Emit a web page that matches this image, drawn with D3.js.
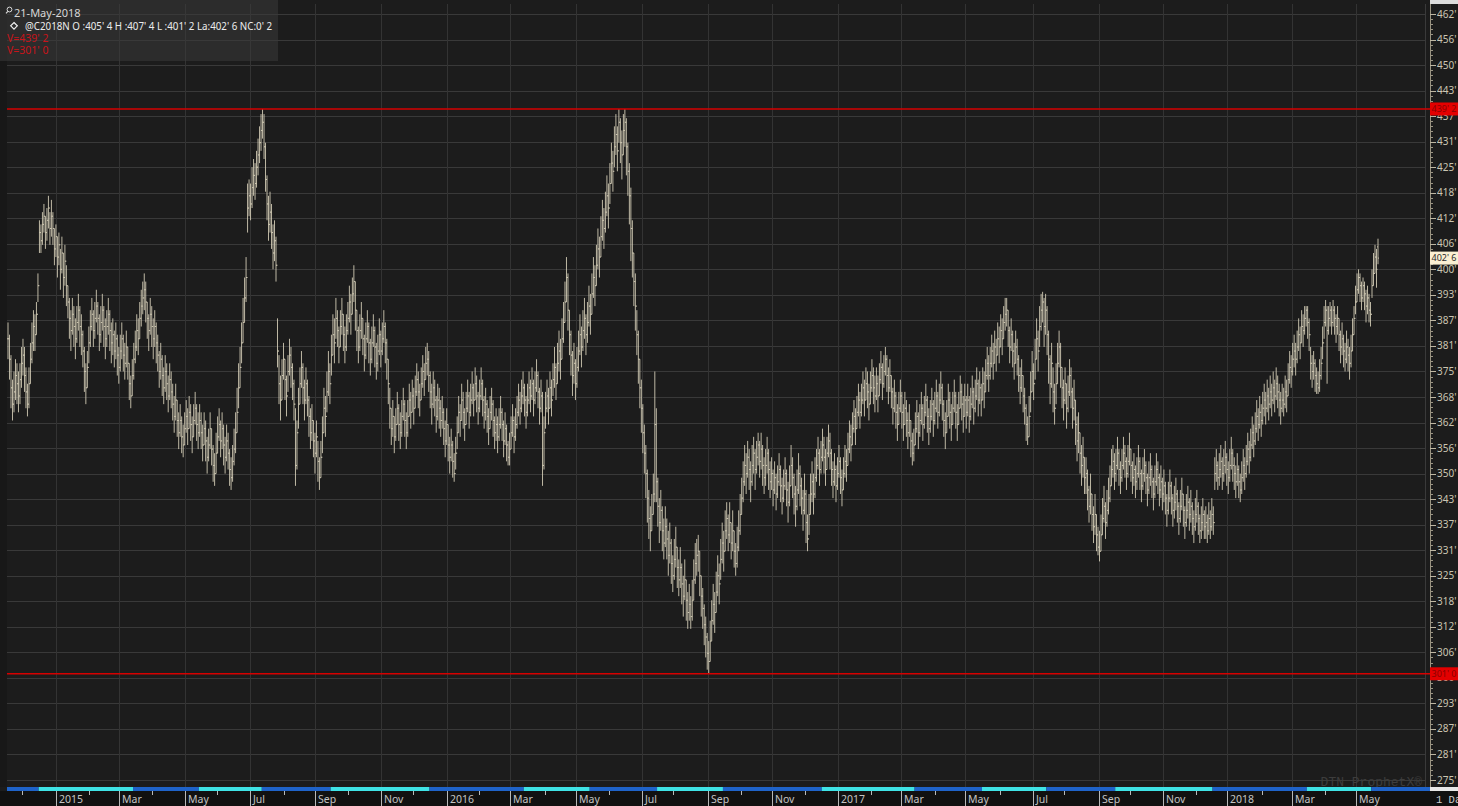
<!DOCTYPE html>
<html>
<head>
<meta charset="utf-8">
<script src="https://cdn.jsdelivr.net/npm/d3@7"></script>
<style>
  html, body { margin: 0; padding: 0; background: #1c1c1c; }
  svg { display: block; }
</style>
</head>
<body>
<svg id="chart" width="1458" height="806"></svg>
<script>
// Daily OHLC bars, corn continuation (@C2018N), one row = two trading weeks.
const firstDay = "2014-11-17";

const closes = [
383,378,371,367,370,374,372,369,373,377,
379,374,370,367,372,378,382,386,384,389,
396,409,407,411,413,409,412,415,410,413,
410,405,408,403,406,400,404,398,402,396,
392,388,385,389,386,383,387,390,386,384,
380,375,371,376,382,386,389,385,388,391,
388,384,387,390,386,383,386,389,385,382,
384,380,383,379,376,380,383,379,377,381,
377,372,369,374,378,381,385,383,388,391,
393,395,392,388,385,389,386,383,386,382,
379,375,378,374,371,375,372,369,373,370,
367,364,368,363,360,363,359,357,361,364,
361,365,362,359,363,366,362,360,363,360,
357,361,358,354,357,361,356,352,350,355,
359,362,358,361,357,354,358,355,351,349,
353,356,360,365,371,376,382,387,393,398,
415,418,416,420,423,421,425,428,431,434,
436,430,422,416,411,414,409,404,407,401,
380,372,368,374,378,373,369,375,379,376,
372,367,352,360,367,372,376,371,368,372,
368,364,360,363,358,355,359,353,349,354,
360,366,364,370,375,372,379,384,382,388,
385,381,386,389,384,381,385,388,392,389,
394,397,390,385,381,385,388,383,379,383,
386,382,378,382,385,381,377,380,384,380,
383,386,382,378,372,366,361,364,359,362,
366,362,360,364,367,363,360,364,368,365,
369,366,370,373,370,368,372,375,373,377,
378,374,370,367,371,368,364,368,366,363,
365,361,358,362,357,354,357,353,350,355,
360,365,363,368,365,362,366,369,365,368,
371,368,372,369,366,369,372,368,365,367,
364,361,365,367,363,360,362,359,362,365,
362,358,361,357,354,356,360,363,359,362,
365,368,366,369,371,368,365,368,371,369,
372,368,371,374,370,366,369,352,360,366,
369,366,371,368,373,376,372,377,380,378,
383,387,392,398,390,384,379,374,377,372,
376,380,384,381,385,388,384,387,391,389,
394,398,396,401,405,403,408,412,410,414,
418,415,421,426,424,430,433,429,436,431,
428,434,436,430,424,418,410,404,397,391,
384,378,371,366,360,355,350,344,339,336,
340,345,362,348,342,338,341,336,333,337,
334,330,333,328,325,329,332,327,324,327,
323,320,324,319,316,318,315,319,324,328,
330,331,325,320,317,313,310,306,304,309,
314,318,316,321,325,323,329,333,331,336,
339,335,338,333,336,331,328,332,336,340,
344,348,352,350,354,351,348,352,355,351,
354,357,353,356,352,349,352,355,351,348,
350,346,349,345,348,351,347,344,347,350,
346,343,347,352,349,345,342,346,350,347,
344,341,345,338,334,340,345,348,345,349,
352,355,351,354,357,354,351,355,358,355,
351,348,351,347,350,353,349,346,350,353,
352,356,359,357,361,364,361,365,368,365,
368,371,368,372,370,367,371,374,371,369,
372,369,373,376,372,375,378,374,371,374,
370,366,369,365,362,366,369,365,362,366,
363,360,363,358,355,357,361,364,360,363,
366,362,365,368,364,361,364,367,363,366,
369,365,368,371,367,363,360,364,368,365,
362,366,369,365,362,366,370,367,364,368,
365,368,364,367,370,366,369,372,368,371,
368,372,370,374,377,374,377,380,377,381,
379,383,381,385,383,387,389,390,385,381,
384,380,377,381,378,374,371,374,369,366,
362,359,364,370,375,372,378,383,380,386,
390,392,386,390,384,378,372,377,370,366,
372,377,381,376,371,368,372,366,370,374,
370,366,368,362,358,360,355,352,354,349,
350,346,342,345,340,337,340,335,332,331,
335,339,342,338,341,344,347,351,353,350,
352,355,351,349,352,355,353,350,353,356,
352,349,351,348,350,353,350,347,350,352,
349,346,349,351,348,345,348,351,349,346,
348,345,347,344,341,344,347,344,341,343,
345,342,339,342,345,341,338,341,343,340,
342,339,337,340,342,339,336,338,340,337,
338,336,339,337,340,338,350,352,349,351,
353,350,352,354,351,349,352,355,352,350,
348,351,348,346,349,352,350,353,356,354,
357,360,358,361,364,362,365,363,366,368,
366,369,367,370,368,371,369,372,370,368,
366,368,367,370,369,373,376,375,378,380,
378,381,384,382,386,385,388,390,387,384,
377,375,377,374,372,371,374,377,382,387,
390,385,388,390,387,390,388,386,388,384,
381,383,380,378,381,379,377,380,384,388,
392,395,398,396,393,396,394,391,393,390,
389,396,399,403,400,402.75
];

const highs = [
387,384,379,373,375,378,377,375,377,381,
383,381,376,372,376,382,387,390,389,392,
399,412,411,414,416,413,415,418,414,417,
414,410,411,408,409,405,408,404,406,401,
396,393,390,393,391,388,391,394,391,389,
385,381,377,380,386,390,393,390,392,395,
392,389,391,394,391,388,390,393,390,387,
388,385,387,384,381,384,387,384,382,385,
381,377,374,378,382,385,389,388,392,395,
397,399,397,392,389,393,391,388,390,387,
384,380,382,379,376,379,377,374,377,375,
372,369,372,368,365,367,364,362,365,368,
366,369,367,364,367,370,367,365,367,365,
362,365,363,359,361,365,361,357,355,360,
364,366,363,365,362,359,362,360,356,354,
357,361,365,371,377,381,387,393,398,403,
421,422,421,425,427,426,429,432,435,438,
439.25,438,431,423,418,419,416,411,412,408,
388,379,374,378,382,378,374,379,383,381,
377,373,366,363,371,376,380,377,373,376,
373,369,366,367,363,360,363,358,354,358,
364,371,369,375,380,377,384,389,388,393,
390,386,390,393,389,386,389,392,396,394,
398,401,397,390,386,389,392,388,384,387,
390,387,383,386,389,386,382,384,388,385,
387,390,387,383,378,371,366,368,364,366,
370,367,365,368,371,368,365,368,372,370,
373,371,374,377,375,372,376,379,377,381,
382,380,375,372,375,373,369,372,371,368,
369,366,363,366,362,359,361,358,355,359,
364,369,367,372,370,366,370,373,370,372,
375,372,376,374,370,373,376,373,369,371,
368,366,369,371,368,364,366,364,366,369,
366,363,365,362,358,360,364,367,364,366,
369,372,370,373,375,372,369,372,375,373,
376,373,375,378,375,371,373,370,364,370,
373,371,375,373,377,381,377,382,385,383,
388,392,397,403,399,390,385,380,382,378,
381,385,389,386,390,393,389,392,396,394,
399,403,401,406,410,408,413,417,415,419,
423,421,426,431,429,435,438,435,439.25,437,
434,438,439.25,437,431,426,420,412,404,399,
390,385,378,373,367,362,357,351,346,342,
345,350,375,366,349,344,346,342,339,342,
339,336,338,334,330,334,337,332,329,332,
328,325,329,324,321,323,320,324,329,333,
334,335,331,325,322,318,315,311,309,314,
319,323,321,326,330,328,334,338,336,341,
343,340,343,338,341,336,333,337,341,345,
349,353,357,355,358,356,353,357,359,356,
358,360,358,360,357,354,356,359,356,353,
354,351,353,350,352,355,352,349,351,354,
351,348,352,357,354,350,347,351,355,352,
349,346,350,346,340,345,350,353,350,354,
356,359,356,358,361,359,356,359,362,360,
356,353,355,352,354,357,354,351,354,357,
356,360,363,362,365,368,366,369,372,370,
372,375,373,376,375,372,375,378,376,374,
376,374,377,380,377,379,381,379,376,378,
374,371,373,370,367,370,373,370,367,370,
368,365,367,363,360,361,365,368,365,367,
370,367,369,372,369,366,368,371,368,370,
373,370,372,375,372,368,365,368,372,370,
367,370,373,370,367,370,374,372,369,372,
369,372,369,371,374,371,373,376,373,375,
372,376,375,378,381,379,381,384,382,385,
383,387,386,389,388,391,393,393,390,386,
388,385,382,385,383,379,376,378,374,371,
367,364,369,375,380,377,383,388,385,391,
394,394.5,393,394,391,385,379,382,376,372,
377,382,385,382,376,373,376,372,374,378,
376,371,373,368,364,365,360,357,359,354,
354,351,347,350,345,342,345,340,337,336,
340,344,347,343,346,349,352,356,357,355,
356,359,356,353,356,359,357,354,357,360,
356,353,355,352,354,357,354,351,354,356,
353,350,353,355,352,349,352,355,353,350,
352,349,351,348,345,348,351,348,345,347,
349,346,343,346,349,345,342,345,347,344,
346,343,341,344,346,343,340,342,344,341,
342,340,343,341,344,342,354,356,353,355,
357,354,356,358,355,353,356,359,356,354,
352,355,352,350,353,356,354,357,360,358,
361,364,362,365,368,366,369,367,370,372,
370,373,371,374,372,375,373,376,374,372,
370,372,371,374,373,377,380,379,382,384,
382,385,388,386,390,389,391,391,391,388,
381,379,380,378,376,375,378,381,386,391,
392.5,391,391,392,391,392.5,391,389,391,388,
385,387,384,382,385,383,381,384,388,391,
396,399,400,399,397,398,397,395,396,394,
392,400,404,406,405,407.5
];

const lows = [
378,373,366,363,365,368,367,365,367,371,
374,370,366,364,366,372,377,380,380,384,
392,404,404,406,409,405,407,410,406,408,
406,401,403,398,401,395,399,393,396,391,
388,383,380,384,381,378,382,385,381,379,
376,370,367,371,377,381,385,381,383,387,
384,380,382,385,381,378,381,384,380,377,
379,376,378,374,372,375,378,375,373,376,
373,368,366,369,373,377,380,379,383,386,
389,390,387,383,380,384,381,378,381,377,
375,371,373,369,367,370,368,365,368,366,
363,360,363,359,356,359,355,354,357,360,
357,361,358,355,359,362,358,356,359,356,
353,357,353,350,353,356,352,348,347,350,
355,358,354,356,352,350,353,351,347,346,
348,352,355,360,366,371,377,382,387,392,
409,413,412,415,418,417,420,423,426,429,
432,427,419,412,407,409,405,400,402,397,
376,367,363,368,373,368,364,370,374,371,
368,363,347,351,361,367,371,367,363,367,
364,359,356,358,354,350,354,348,346,349,
355,360,359,365,369,367,374,379,377,383,
381,377,381,384,380,377,380,384,387,384,
389,392,385,380,377,380,383,379,375,378,
382,377,374,377,381,376,373,375,379,376,
379,382,377,373,367,361,357,359,355,358,
362,358,356,359,363,359,356,359,364,361,
365,362,366,369,366,364,368,371,369,373,
374,370,366,362,366,364,360,363,361,359,
361,357,354,357,353,350,353,349,348,351,
356,360,359,363,361,358,362,365,361,364,
367,364,368,365,362,365,368,364,361,363,
360,357,361,363,359,356,358,355,358,361,
358,354,357,353,352,352,356,359,355,358,
361,364,362,365,367,364,361,364,367,365,
368,364,367,370,366,362,365,347,351,361,
365,362,366,364,369,371,368,372,375,373,
378,382,387,392,385,379,374,369,372,368,
371,375,379,376,380,383,379,382,386,384,
389,393,391,396,400,398,403,407,405,409,
413,410,416,421,419,425,428,424,431,426,
422,428,430,423,418,411,402,398,391,385,
379,372,366,360,355,350,344,338,334,331,
336,340,343,343,337,333,336,331,329,332,
329,325,328,323,321,324,327,322,320,322,
318,315,319,314,312,314,312,314,319,323,
325,326,320,315,312,308,305,302,301,304,
309,313,311,316,320,318,324,328,326,331,
334,331,333,329,331,327,325,327,331,335,
340,343,347,345,349,346,343,347,350,346,
350,352,349,351,347,345,347,350,346,344,
346,342,345,341,344,347,343,340,343,346,
342,338,342,347,344,340,337,341,345,342,
340,336,340,333,331,335,340,343,340,344,
348,351,347,350,353,350,347,351,354,351,
347,344,347,343,346,349,345,342,346,349,
348,352,355,353,357,360,357,361,364,361,
364,367,364,368,366,363,367,370,367,365,
368,365,369,372,368,371,374,370,367,370,
366,362,365,361,358,362,365,361,358,362,
359,356,359,354,352,353,357,360,356,359,
362,358,361,364,360,357,360,363,359,362,
365,361,364,367,363,359,356,360,364,361,
358,362,365,361,358,362,366,363,360,364,
361,364,360,363,366,362,365,368,364,367,
364,368,366,370,373,370,373,376,373,377,
375,379,377,381,379,383,385,386,381,377,
380,376,373,377,374,370,367,370,365,362,
358,357,359,365,370,368,373,378,375,381,
385,387,381,384,379,372,367,371,365,362,
367,372,376,371,366,363,367,361,365,369,
366,361,363,357,353,355,350,347,349,345,
345,341,338,340,336,333,335,331,330,328.5,
331,335,338,334,337,340,343,347,349,346,
348,351,347,345,348,351,349,346,349,352,
348,345,347,344,346,349,346,343,346,348,
345,342,345,347,344,341,344,347,345,342,
344,341,343,340,337,340,343,340,337,339,
341,338,335,338,341,337,334,337,339,336,
338,335,333,336,338,335,333,334,336,334,
334,333,335,334,336,335,346,348,346,347,
349,346,348,350,347,345,348,351,348,346,
344,347,344,343,345,348,346,349,352,350,
353,356,354,357,360,358,361,359,362,364,
362,365,363,366,364,367,365,368,366,364,
362,365,364,366,365,369,372,371,374,376,
374,377,380,378,382,381,384,386,383,380,
373,371,373,370,369.5,369.5,370,373,378,383,
386,372,384,386,384,386,384,382,384,380,
377,379,376,375,377,375,373,376,380,384,
389,392,394,392,390,392,390,387,389,387,
386,393,396,399,395.5,401.25
];

// Price axis ticks (cents, 6'2 apart) and horizontal marker lines.
const priceTicks = [275, 281.25, 287.5, 293.75, 300, 306.25, 312.5, 318.75, 325, 331.25,
  337.5, 343.75, 350, 356.25, 362.5, 368.75, 375, 381.25, 387.5, 393.75, 400, 406.25,
  412.5, 418.75, 425, 431.25, 437.5, 443.75, 450, 456.25, 462.5];
const markerLevels = [439.25, 301.0];

// Quote header for the last bar.
const quoteFields = ["O", "H", "L", "La", "NC"];
const quoteValues = [405.5, 407.5, 401.25, 402.75, 0.25];
const quoteDate = "21-May-2018";
const symbol = "@C2018N";

// Contract segments shown in the strip under the bars.
const segmentStarts = ["2014-11-17", "2014-12-16", "2015-03-13", "2015-05-14", "2015-07-13",
  "2015-09-15", "2015-12-16", "2016-03-14", "2016-05-13", "2016-07-15", "2016-09-15",
  "2016-12-16", "2017-03-14", "2017-05-16", "2017-07-14", "2017-09-18", "2017-12-18",
  "2018-03-15", "2018-05-15"];
const segmentColors = ["#1f63c9", "#3fe3e6"];

// ---------------------------------------------------------------------------
const W = 1458, H = 806;
const P = { l: 7, r: 1425, t: 4, b: 787, axisX: 1430 };
const n = Math.min(closes.length, highs.length, lows.length);

// Trading calendar: weekdays from the first bar.
const parse = d3.timeParse("%Y-%m-%d");
const dates = [];
for (let d = parse(firstDay); dates.length < n; d = d3.timeDay.offset(d, 1)) {
  const wd = d.getDay();
  if (wd !== 0 && wd !== 6) dates.push(d);
}
const opens = closes.map((c, i) => (i === 0 ? c : closes[i - 1]));
opens[n - 1] = quoteValues[0];

const x = d3.scaleLinear().domain([0, n - 1]).range([8, 1378]);
const y = d3.scaleLinear().domain([275, 462.5]).range([780, 14]);
const dateIndex = d => d3.bisector(e => e).left(dates, d);

const eighths = v => { const w = Math.floor(v); return `${w}' ${Math.round((v - w) * 8)}`; };
const axisFont = "'Noto Sans', 'Open Sans', sans-serif";

const svg = d3.select("#chart");
svg.append("rect").attr("width", W).attr("height", H).attr("fill", "#1c1c1c");
svg.append("rect").attr("x", 0).attr("y", 0).attr("width", P.l).attr("height", P.b)
  .attr("fill", "#181818");

// Month ticks: first trading day of each month
const monthTicks = [];
for (let i = 1; i < n; i++) {
  if (dates[i].getMonth() !== dates[i - 1].getMonth()) monthTicks.push(i);
}
const labelled = monthTicks.filter(i => dates[i].getMonth() % 2 === 0);
const minor = monthTicks.filter(i => dates[i].getMonth() % 2 === 1);
const monthLabel = i => dates[i].getMonth() === 0 ? d3.timeFormat("%Y")(dates[i]) : d3.timeFormat("%b")(dates[i]);

// Grid
const grid = svg.append("g").attr("shape-rendering", "crispEdges");
grid.selectAll("line.h").data(priceTicks).join("line")
  .attr("x1", P.l).attr("x2", P.r)
  .attr("y1", d => Math.round(y(d)) + 0.5).attr("y2", d => Math.round(y(d)) + 0.5)
  .attr("stroke", "#393939").attr("stroke-width", 1);
grid.selectAll("line.v").data(labelled).join("line")
  .attr("x1", i => Math.round(x(i)) - 0.5).attr("x2", i => Math.round(x(i)) - 0.5)
  .attr("y1", P.t).attr("y2", P.b)
  .attr("stroke", "#333333").attr("stroke-width", 1);
grid.append("line").attr("x1", P.r + 0.5).attr("x2", P.r + 0.5).attr("y1", P.t).attr("y2", P.b)
  .attr("stroke", "#3a3a3a");

// OHLC bars
const barPath = d3.range(n).map(i => {
  const cx = x(i);
  return `M${cx},${y(highs[i])}V${y(lows[i])}` +
         `M${cx - 1},${y(opens[i])}H${cx}` +
         `M${cx},${y(closes[i])}H${cx + 1}`;
}).join("");
svg.append("path").attr("d", barPath)
  .attr("fill", "none").attr("stroke", "#dcd5bd").attr("stroke-width", 0.85);

// Marker lines
svg.selectAll("line.marker").data(markerLevels).join("line")
  .attr("x1", P.l).attr("x2", P.axisX)
  .attr("y1", d => y(d)).attr("y2", d => y(d))
  .attr("stroke", "#d60000").attr("stroke-width", 1.4);

// Watermark
svg.append("text").attr("x", 1422).attr("y", 786).attr("text-anchor", "end")
  .attr("font-family", "'Liberation Mono', monospace").attr("font-size", 13)
  .attr("fill", "#3d3d3d").text("DTN ProphetX®");

// Contract strip
const segIdx = segmentStarts.map(s => Math.max(0, dateIndex(parse(s))));
svg.append("g").selectAll("rect").data(segIdx).join("rect")
  .attr("x", (d, k) => k === 0 ? P.l : x(d) - 0.75)
  .attr("width", (d, k) => (k + 1 < segIdx.length ? x(segIdx[k + 1]) - 0.75 : P.axisX) - (k === 0 ? P.l : x(d) - 0.75))
  .attr("y", 787).attr("height", 4)
  .attr("fill", (d, k) => segmentColors[k % 2]);

// Date axis
svg.append("rect").attr("x", 0).attr("y", 791).attr("width", P.axisX).attr("height", 15).attr("fill", "#111111");
const xa = svg.append("g").attr("shape-rendering", "crispEdges");
xa.selectAll("line.maj").data(labelled).join("line")
  .attr("x1", i => Math.round(x(i)) - 0.5).attr("x2", i => Math.round(x(i)) - 0.5)
  .attr("y1", 791).attr("y2", 806).attr("stroke", "#b8b8b8");
xa.selectAll("line.min").data(minor).join("line")
  .attr("x1", i => Math.round(x(i)) - 0.5).attr("x2", i => Math.round(x(i)) - 0.5)
  .attr("y1", 791).attr("y2", 795).attr("stroke", "#b8b8b8");
xa.selectAll("text").data(labelled).join("text")
  .attr("x", i => Math.round(x(i)) + 2).attr("y", 803)
  .attr("font-family", axisFont).attr("font-size", 10.5).attr("fill", "#c4c4c4")
  .text(monthLabel);

// Price axis
const ya = svg.append("g");
ya.append("rect").attr("x", P.axisX).attr("y", 0).attr("width", W - P.axisX).attr("height", 4).attr("fill", "#dcdcdc");
ya.append("rect").attr("x", P.axisX).attr("y", 787).attr("width", W - P.axisX).attr("height", 4).attr("fill", "#e8e8e8");
ya.append("rect").attr("x", P.axisX).attr("y", 791).attr("width", W - P.axisX).attr("height", 15).attr("fill", "#111111");
ya.append("line").attr("x1", P.axisX + 0.5).attr("x2", P.axisX + 0.5).attr("y1", 4).attr("y2", 787)
  .attr("stroke", "#9a9482");
const minorPrices = d3.range(275, 462.5 + 1e-6, 1.25);
ya.selectAll("line.mt").data(minorPrices).join("line")
  .attr("x1", P.axisX).attr("x2", P.axisX + 3)
  .attr("y1", d => Math.round(y(d)) + 0.5).attr("y2", d => Math.round(y(d)) + 0.5)
  .attr("stroke", "#9a9482").attr("shape-rendering", "crispEdges");
ya.selectAll("line.Mt").data(priceTicks).join("line")
  .attr("x1", P.axisX).attr("x2", P.axisX + 6)
  .attr("y1", d => Math.round(y(d)) + 0.5).attr("y2", d => Math.round(y(d)) + 0.5)
  .attr("stroke", "#bdb6a2").attr("shape-rendering", "crispEdges");
ya.selectAll("text").data(priceTicks).join("text")
  .attr("x", P.axisX + 7).attr("y", d => y(d)).attr("dy", "0.35em")
  .attr("font-family", axisFont).attr("font-size", 10).attr("fill", "#cbc5b2")
  .text(d => `${Math.floor(d)}'`);

// Value boxes on the price axis
const tagData = markerLevels.map(v => ({ v, bg: "#e30000", fg: "#8a0000" }))
  .concat([{ v: quoteValues[3], bg: "#fbf0d3", fg: "#2a2a2a" }]);
const tags = ya.selectAll("g.tag").data(tagData).join("g")
  .attr("transform", d => `translate(${P.axisX},${y(d.v)})`);
tags.append("rect").attr("x", 0).attr("y", -6.5).attr("width", W - P.axisX).attr("height", 13)
  .attr("fill", d => d.bg);
tags.append("text").attr("x", 1.5).attr("dy", "0.35em")
  .attr("font-family", axisFont).attr("font-size", 9).attr("fill", d => d.fg)
  .text(d => eighths(d.v));

svg.append("text").attr("x", 1436).attr("y", 803)
  .attr("font-family", "'Liberation Mono', monospace").attr("font-size", 10.5).attr("fill", "#cfcfcf")
  .text("1 Day");

// Quote header
const hdr = svg.append("g");
hdr.append("rect").attr("x", 0).attr("y", 0).attr("width", 278).attr("height", 61)
  .attr("fill", "#3a3a3a").attr("fill-opacity", 0.55);
hdr.append("circle").attr("cx", 9.5).attr("cy", 9.5).attr("r", 2.4)
  .attr("fill", "none").attr("stroke", "#d8d8d8").attr("stroke-width", 1);
hdr.append("line").attr("x1", 7.8).attr("y1", 11.3).attr("x2", 6).attr("y2", 13.3)
  .attr("stroke", "#d8d8d8").attr("stroke-width", 1.2);
hdr.append("path").attr("d", "M14,22.5L17.3,25.8L14,29.1L10.7,25.8Z")
  .attr("fill", "none").attr("stroke", "#eeeeee").attr("stroke-width", 1.2);
const hfont = "'Noto Sans', 'Open Sans', sans-serif";
hdr.append("text").attr("x", 14).attr("y", 17).attr("font-family", hfont).attr("font-size", 11)
  .attr("fill", "#d6d6d6").text(quoteDate);
const quoteText = symbol + " " + quoteFields.map((f, k) =>
  (f.length === 1 ? `${f} :` : `${f}:`) + eighths(quoteValues[k])).join(" ");
hdr.append("text").attr("x", 25).attr("y", 30).attr("font-family", hfont).attr("font-size", 11)
  .attr("fill", "#ececec").attr("textLength", 247).attr("lengthAdjust", "spacingAndGlyphs")
  .text(quoteText);
hdr.selectAll("text.v").data(markerLevels).join("text")
  .attr("x", 7).attr("y", (d, k) => 41.5 + k * 12)
  .attr("font-family", hfont).attr("font-size", 10.5).attr("fill", "#c8141a")
  .text(d => `V=${eighths(d)}`);
</script>
</body>
</html>
